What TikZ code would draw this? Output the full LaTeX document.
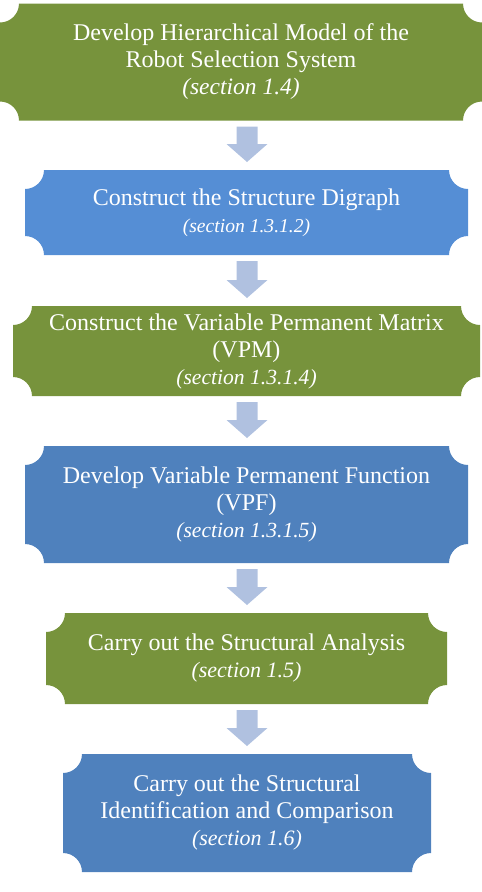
\documentclass[tikz,border=0pt]{standalone}
\usepackage{fontspec}
\setmainfont{Liberation Serif}
\usetikzlibrary{calc,backgrounds}
\definecolor{olive}{HTML}{77933C}
\definecolor{blueA}{HTML}{558ED5}
\definecolor{blueB}{HTML}{4F81BD}
\definecolor{arrowc}{HTML}{B0C1E0}
\newcommand{\plaque}[2]{%
  \fill[#2] ([xshift=19pt]#1.north west) -- ([xshift=-19pt]#1.north east)
    arc[start angle=180,end angle=270,radius=19pt]
    -- ([yshift=19pt]#1.south east)
    arc[start angle=90,end angle=180,radius=19pt]
    -- ([xshift=19pt]#1.south west)
    arc[start angle=0,end angle=90,radius=19pt]
    -- ([yshift=-19pt]#1.north west)
    arc[start angle=270,end angle=360,radius=19pt] -- cycle;}
\newcommand{\blockarrow}[2]{%
  \path[fill=arrowc] let \p1=(#1.south), \p2=(#2.north) in
    (236.5pt,\y1-6pt) -- (257.5pt,\y1-6pt) -- (257.5pt,\y2+26pt)
    -- (267.5pt,\y2+26pt) -- (247pt,\y2+8pt) -- (226.5pt,\y2+26pt)
    -- (236.5pt,\y2+26pt) -- cycle;}
\newcommand{\sect}[2]{{\fontsize{#1}{27}\selectfont\itshape #2}}
\tikzset{
  boxtext/.style={text=white, align=center, inner sep=0pt, outer sep=0pt,
    font=\fontsize{24}{27}\selectfont},
}
\begin{document}
\begin{tikzpicture}[x=1pt,y=1pt]
\useasboundingbox (0,0) rectangle (482,-892);
\node[boxtext, minimum width=482pt, minimum height=117pt] (b1) at (241,-62)
  {Develop Hierarchical Model of the\\Robot Selection System\\\sect{23.5}{(section 1.4)}};
\node[boxtext, minimum width=443pt, minimum height=85pt] (b2) at (246.5,-212.5)
  {Construct the Structure Digraph\\\sect{19.6}{(section 1.3.1.2)}};
\node[boxtext, minimum width=467pt, minimum height=90pt] (b3) at (246.5,-351)
  {Construct the Variable Permanent Matrix\\(VPM)\\\sect{21.6}{(section 1.3.1.4)}};
\node[boxtext, minimum width=443pt, minimum height=117pt] (b4) at (246.5,-504.5)
  {Develop Variable Permanent Function\\(VPF)\\\sect{21.6}{(section 1.3.1.5)}};
\node[boxtext, minimum width=401pt, minimum height=91pt] (b5) at (246.5,-658.5)
  {Carry out the Structural Analysis\\\sect{22}{(section 1.5)}};
\node[boxtext, minimum width=368pt, minimum height=118pt] (b6) at (247,-813)
  {Carry out the Structural\\Identification and Comparison\\\sect{22}{(section 1.6)}};
\begin{scope}[on background layer]
\plaque{b1}{olive}
\plaque{b2}{blueA}
\plaque{b3}{olive}
\plaque{b4}{blueB}
\plaque{b5}{olive}
\plaque{b6}{blueB}
\blockarrow{b1}{b2}
\blockarrow{b2}{b3}
\blockarrow{b3}{b4}
\blockarrow{b4}{b5}
\blockarrow{b5}{b6}
\end{scope}
\end{tikzpicture}
\end{document}
